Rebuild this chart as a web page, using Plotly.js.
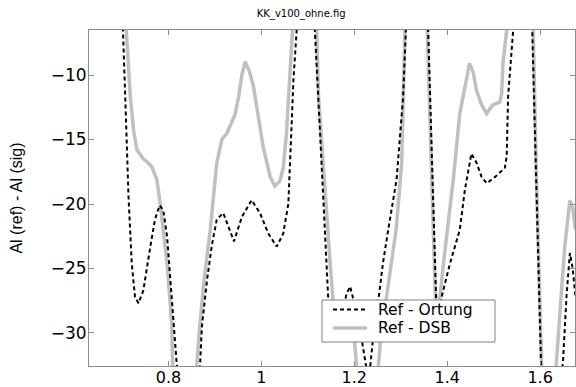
<!DOCTYPE html>
<html>
<head>
<meta charset="utf-8">
<script src="https://cdn.plot.ly/plotly-3.0.1.min.js"></script>
<style>
  html, body { margin: 0; padding: 0; background: #fff; }
  #chart { width: 576px; height: 387px; }
</style>
</head>
<body>
<div id="chart"></div>
<script>
// Series: Ref - Ortung (black dashed)
const ortungX = [0.690, 0.702, 0.707, 0.714, 0.721, 0.728, 0.7355, 0.746, 0.761, 0.771, 0.781, 0.789, 0.797, 0.804, 0.811, 0.818, 0.840, 0.868, 0.872, 0.883, 0.893, 0.904, 0.918, 0.929, 0.941, 0.958, 0.979, 0.997, 1.015, 1.033, 1.047, 1.058, 1.062, 1.069, 1.076, 1.095, 1.115, 1.119, 1.126, 1.133, 1.144, 1.154, 1.164, 1.174, 1.183, 1.191, 1.198, 1.207, 1.215, 1.231, 1.240, 1.252, 1.262, 1.273, 1.283, 1.291, 1.305, 1.311, 1.335, 1.359, 1.3675, 1.376, 1.380, 1.384, 1.388, 1.406, 1.427, 1.438, 1.452, 1.463, 1.474, 1.485, 1.503, 1.517, 1.524, 1.528, 1.531, 1.542, 1.562, 1.583, 1.591, 1.602, 1.625, 1.649, 1.657, 1.664, 1.670, 1.676];
const ortungY = [-2, -6.5, -11.7, -19.4, -24.6, -27.2, -27.7, -26.7, -23.3, -21.2, -20.1, -20.5, -22.5, -25.9, -29.2, -32.5, -38, -32.5, -29.5, -25.9, -23.3, -21.2, -20.7, -21.8, -22.9, -21.0, -19.7, -20.7, -22.3, -23.3, -22.3, -20.0, -16.8, -10.4, -6.5, -2, -6.5, -9.1, -14.3, -19.4, -27.4, -29.6, -30.0, -28.6, -27.0, -26.4, -27.4, -29.0, -30.3, -33.8, -30.5, -27.4, -24.5, -22.0, -20.0, -18.1, -11.7, -6.5, -2, -6.5, -17, -27.2, -29.5, -29.0, -27.2, -24.6, -22.0, -18.9, -16.1, -16.8, -17.9, -18.4, -17.9, -17.4, -17.2, -16.3, -11.7, -6.5, -2, -6.5, -18, -32.5, -40, -32.3, -27, -23.8, -25, -27.2];

// Series: Ref - DSB (light grey solid)
const dsbX = [0.695, 0.709, 0.718, 0.725, 0.732, 0.746, 0.756, 0.764, 0.775, 0.782, 0.797, 0.807, 0.809, 0.835, 0.861, 0.868, 0.878, 0.890, 0.904, 0.915, 0.926, 0.943, 0.951, 0.958, 0.965, 0.974, 0.983, 0.994, 1.004, 1.019, 1.029, 1.040, 1.047, 1.054, 1.058, 1.062, 1.067, 1.093, 1.119, 1.123, 1.130, 1.137, 1.148, 1.154, 1.165, 1.180, 1.193, 1.200, 1.205, 1.230, 1.252, 1.257, 1.268, 1.280, 1.290, 1.297, 1.302, 1.309, 1.333, 1.357, 1.366, 1.374, 1.378, 1.382, 1.392, 1.413, 1.427, 1.434, 1.445, 1.448, 1.456, 1.463, 1.474, 1.485, 1.492, 1.499, 1.513, 1.517, 1.520, 1.528, 1.556, 1.585, 1.592, 1.603, 1.620, 1.635, 1.645, 1.653, 1.664, 1.670, 1.676];
const dsbY = [-2, -6.5, -11.7, -14.3, -15.8, -16.5, -16.8, -17.1, -18.1, -19.9, -24.6, -29.2, -32.5, -40, -32.5, -29.2, -25.5, -22.0, -16.8, -15.0, -14.5, -13.1, -11.7, -10.0, -8.97, -9.7, -10.9, -13.2, -15.6, -17.9, -18.6, -18.2, -17.2, -14.5, -12.0, -9.1, -6.5, -2, -6.5, -11.7, -15.5, -19.4, -24.6, -27.4, -29.0, -29.6, -30.0, -30.5, -32.5, -37, -32.5, -30.3, -27.4, -24.5, -22.0, -19.0, -16.8, -6.5, -2, -6.5, -17, -26.7, -29.0, -28.0, -24.6, -18.1, -13.0, -11.7, -9.4, -9.1, -9.8, -11.2, -12.3, -13.0, -12.6, -12.3, -12.1, -11.5, -9.1, -6.5, -2, -6.5, -18.1, -32.3, -42, -32.3, -27.2, -23.3, -19.7, -20.3, -22];

const seriesNames = ["Ref - Ortung", "Ref - DSB"];
const chartTitle = "KK_v100_ohne.fig";
const yTitle = "Al (ref) - Al (sig)";
const xTickVals = [0.8, 1, 1.2, 1.4, 1.6];
const yTickVals = [-30, -25, -20, -15, -10];

const W = 576, H = 387;
const M = { l: 89, r: 1, t: 30, b: 21 };
const PW = W - M.l - M.r, PH = H - M.t - M.b;
// helpers: figure pixel -> paper fraction (for legend decoration only)
const px = v => (v - M.l) / PW;
const py = v => (H - M.b - v) / PH;

const traces = [
  {
    x: dsbX, y: dsbY, name: seriesNames[1], type: "scatter", mode: "lines",
    line: { color: "#c0c0c0", width: 3.5 }, showlegend: false
  },
  {
    x: ortungX, y: ortungY, name: seriesNames[0], type: "scatter", mode: "lines",
    line: { color: "#000000", width: 2, dash: "4px,3px" }, showlegend: false
  }
];

const axisCommon = {
  showgrid: false, zeroline: false,
  showline: true, linecolor: "#8c8c8c", linewidth: 1,
  mirror: "ticks", ticks: "inside", ticklen: 5, tickcolor: "#8c8c8c", tickwidth: 1
};

// Legend box (drawn as decoration in paper coordinates)
const legBox = { x0: 322, x1: 495, y0: 300, y1: 342 };
const legRows = [309.5, 328];
const legSample = [333, 367];
const legTextX = 377;

const shapes = [
  { type: "rect", xref: "paper", yref: "paper", x0: px(legBox.x0), x1: px(legBox.x1), y0: py(legBox.y1), y1: py(legBox.y0),
    fillcolor: "#fff", line: { color: "#808080", width: 1 }, layer: "above" },
  { type: "line", xref: "paper", yref: "paper", x0: px(legSample[0]), x1: px(legSample[1]), y0: py(legRows[0]), y1: py(legRows[0]),
    line: { color: "#000", width: 2, dash: "4px,3px" }, layer: "above" },
  { type: "line", xref: "paper", yref: "paper", x0: px(legSample[0]), x1: px(legSample[1]), y0: py(legRows[1]), y1: py(legRows[1]),
    line: { color: "#c0c0c0", width: 3.5 }, layer: "above" }
];

const annotations = seriesNames.map((n, i) => ({
  text: n, xref: "paper", yref: "paper", x: px(legTextX), y: py(legRows[i]),
  xanchor: "left", yanchor: "middle", showarrow: false, borderpad: 0,
  font: { family: "DejaVu Sans", size: 15.5, color: "#000" }
}));

const layout = {
  width: W, height: H,
  paper_bgcolor: "#fff", plot_bgcolor: "#fff",
  margin: { l: M.l, r: M.r, t: M.t, b: M.b, pad: 0 },
  title: {
    text: chartTitle, x: 0.523, xanchor: "center", y: 0.964, yanchor: "middle",
    font: { family: "DejaVu Sans", size: 10, color: "#000" }
  },
  xaxis: Object.assign({}, axisCommon, {
    range: [0.629, 1.675], tickvals: xTickVals, ticktext: xTickVals.map(String),
    ticklabelstandoff: -3,
    tickfont: { family: "DejaVu Sans", size: 16, color: "#000" }
  }),
  yaxis: Object.assign({}, axisCommon, {
    range: [-32.56, -6.51], tickvals: yTickVals, ticklabelstandoff: -2,
    tickfont: { family: "DejaVu Sans", size: 17, color: "#000" },
    title: { text: yTitle, standoff: 24, font: { family: "Liberation Sans, Arial", size: 16, color: "#000" } }
  }),
  showlegend: false,
  shapes: shapes,
  annotations: annotations
};

Plotly.newPlot("chart", traces, layout, { displayModeBar: false, staticPlot: true });
</script>
</body>
</html>
